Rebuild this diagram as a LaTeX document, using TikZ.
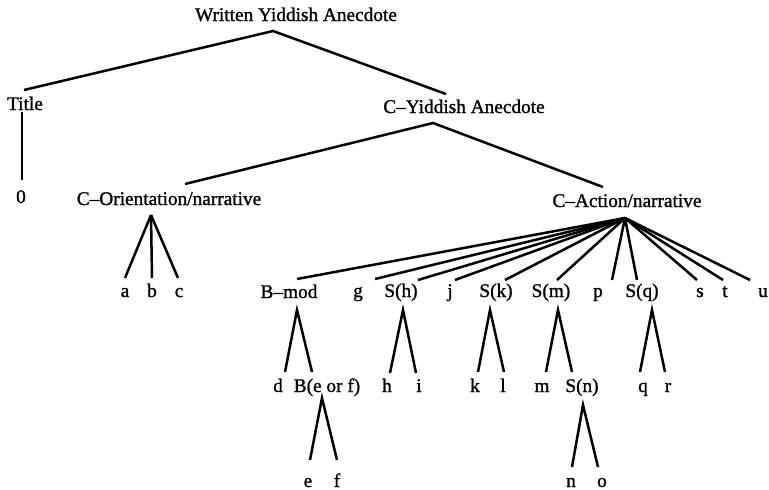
\documentclass[tikz,border=0pt]{standalone}
\usepackage{fontspec}
\setmainfont{Liberation Serif}[RawFeature={embolden=1.2}]
\usetikzlibrary{calc}
\begin{document}
\begin{tikzpicture}[x=1pt,y=-1pt,
  lbl/.style={anchor=base,inner sep=0pt,font=\fontsize{19.3}{22}\selectfont},
  edge/.style={line width=2.5pt,line cap=butt}]
\useasboundingbox (0,0) rectangle (769,490);
% labels
\node[lbl] (WY) at (296,21) {Written Yiddish Anecdote};
\node[lbl] (Title) at (25,110) {Title};
\node[lbl] (CY) at (464,113) {C--Yiddish Anecdote};
\node[lbl] (Zero) at (21,203) {0};
\node[lbl] (CO) at (169,205) {C--Orientation/narrative};
\node[lbl] (CA) at (627,207) {C--Action/narrative};
\node[lbl] (a) at (125,297) {a};
\node[lbl] (b) at (152,297) {b};
\node[lbl] (c) at (179,297) {c};
\node[lbl] (Bmod) at (289,298) {B--mod};
\node[lbl] (g) at (358,297) {g};
\node[lbl] (Sh) at (401,297) {S(h)};
\node[lbl] (j) at (450,297) {j};
\node[lbl] (Sk) at (496,297) {S(k)};
\node[lbl] (Sm) at (551,297) {S(m)};
\node[lbl] (p) at (598,297) {p};
\node[lbl] (Sq) at (642,297) {S(q)};
\node[lbl] (s) at (700,297) {s};
\node[lbl] (t) at (725,297) {t};
\node[lbl] (u) at (763,297) {u};
\node[lbl] (d) at (278,392) {d};
\node[lbl] (Bef) at (327,392) {B(e or f)};
\node[lbl] (h) at (387,392) {h};
\node[lbl] (i) at (419,392) {i};
\node[lbl] (k) at (475,392) {k};
\node[lbl] (l) at (503,392) {l};
\node[lbl] (m) at (542,392) {m};
\node[lbl] (Sn) at (582,392) {S(n)};
\node[lbl] (q) at (643,392) {q};
\node[lbl] (r) at (668,392) {r};
\node[lbl] (e) at (308,487) {e};
\node[lbl] (f) at (337,487) {f};
\node[lbl] (n) at (571,487) {n};
\node[lbl] (o) at (602,487) {o};
% apex points
\coordinate (WYa) at ($(WY.base)+(-23,10)$);
\coordinate (Ta) at ($(Title.base)+(-3,2)$);
\coordinate (CYa) at ($(CY.base)+(-31,10)$);
\coordinate (COa) at ($(CO.base)+(-18,10)$);
\coordinate (CAa) at ($(CA.base)+(-2,11)$);
\coordinate (Bmoda) at ($(Bmod.base)+(8,12)$);
\coordinate (Befa) at ($(Bef.base)+(-5,6)$);
\coordinate (Sha) at ($(Sh.base)+(2,13)$);
\coordinate (Ska) at ($(Sk.base)+(-6,13)$);
\coordinate (Sma) at ($(Sm.base)+(7,13)$);
\coordinate (Sqa) at ($(Sq.base)+(10,13)$);
\coordinate (Sna) at ($(Sn.base)+(1,13)$);
% edges
\draw[edge] ($(Title.base)+(-1,-20)$) -- (WYa) -- ($(CY.base)+(-18,-19)$);
\draw[edge] (Ta) -- ($(Zero.base)+(1,-23)$);
\draw[edge] ($(CO.base)+(16,-21)$) -- (CYa) -- ($(CA.base)+(-24,-20)$);
\draw[edge] (COa) -- ($(a.base)+(0,-19)$);
\draw[edge] (COa) -- ($(b.base)+(0,-19)$);
\draw[edge] (COa) -- ($(c.base)+(-1,-19)$);
\draw[edge] (CAa) -- ($(Bmod.base)+(8,-19)$);
\draw[edge] (CAa) -- ($(g.base)+(17,-18)$);
\draw[edge] (CAa) -- ($(Sh.base)+(17,-17)$);
\draw[edge] (CAa) -- ($(j.base)+(5,-17)$);
\draw[edge] (CAa) -- ($(Sk.base)+(9,-17)$);
\draw[edge] (CAa) -- ($(Sm.base)+(6,-17)$);
\draw[edge] (CAa) -- ($(p.base)+(14,-17)$);
\draw[edge] (CAa) -- ($(Sq.base)+(-5,-17)$);
\draw[edge] (CAa) -- ($(s.base)+(-3,-17)$);
\draw[edge] (CAa) -- ($(t.base)+(-2,-17)$);
\draw[edge] (CAa) -- ($(u.base)+(-13,-17)$);
\draw[edge] ($(d.base)+(7,-20)$) -- (Bmoda) -- ($(Bef.base)+(-15,-20)$);
\draw[edge] ($(e.base)+(2,-27)$) -- (Befa) -- ($(f.base)+(0,-27)$);
\draw[edge] ($(h.base)+(3,-19)$) -- (Sha) -- ($(i.base)+(-3,-19)$);
\draw[edge] ($(k.base)+(3,-20)$) -- (Ska) -- ($(l.base)+(1,-20)$);
\draw[edge] ($(m.base)+(4,-20)$) -- (Sma) -- ($(Sn.base)+(-10,-20)$);
\draw[edge] ($(q.base)+(-3,-20)$) -- (Sqa) -- ($(r.base)+(-3,-20)$);
\draw[edge] ($(n.base)+(1,-20)$) -- (Sna) -- ($(o.base)+(-4,-20)$);
\end{tikzpicture}
\end{document}
